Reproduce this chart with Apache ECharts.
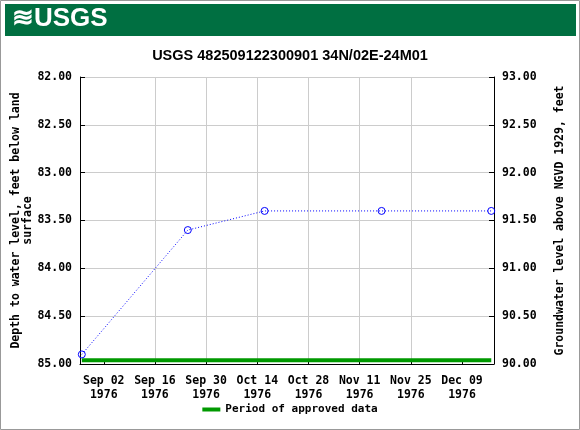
<!DOCTYPE html><html><head><meta charset="utf-8">
<script src="https://cdn.jsdelivr.net/npm/echarts@6/dist/echarts.min.js"></script>
<style>body{margin:0}#c{width:580px;height:430px}</style></head><body><div id="c"></div><script>
const dates=['1976-08-27','1976-09-25','1976-10-16','1976-11-17','1976-12-17'];
const depths=[84.9,83.6,83.4,83.4,83.4];
const tickDates=['1976-09-02','1976-09-16','1976-09-30','1976-10-14','1976-10-28','1976-11-11','1976-11-25','1976-12-09'];
const tickLabels=['Sep 02\n1976','Sep 16\n1976','Sep 30\n1976','Oct 14\n1976','Oct 28\n1976','Nov 11\n1976','Nov 25\n1976','Dec 09\n1976'];
const t=s=>Date.parse(s+'T00:00:00Z');
const tickMs=tickDates.map(t);
const mono='DejaVu Sans Mono';
const ch=echarts.init(document.getElementById('c'));
ch.setOption({
 animation:false,
 graphic:[
  {type:'rect',shape:{x:5,y:4,width:571,height:32},style:{fill:'#006f41'}},
  {type:'text',left:12,top:6,style:{text:'≋USGS',fill:'#fff',font:'bold 26px "Liberation Sans"'}},
  {type:'rect',shape:{x:0.5,y:0.5,width:579,height:429},style:{fill:'none',stroke:'#999'}}
 ],
 title:{text:'USGS 482509122300901 34N/02E-24M01',left:'center',top:43,textStyle:{fontFamily:'Liberation Sans',fontWeight:'bold',fontSize:14.5,color:'#000'}},
 grid:{left:80,right:86,top:77,bottom:66,containLabel:false,outerBoundsMode:'none'},
 legend:{bottom:10,left:'center',itemWidth:18,itemHeight:4,data:[{name:'Period of approved data',icon:'rect'}],textStyle:{fontFamily:mono,fontWeight:'bold',fontSize:11,color:'#000'}},
 xAxis:{type:'value',min:t('1976-08-26')+12*3600e3,max:t('1976-12-17')+18*3600e3,
  axisLine:{lineStyle:{color:'#000'}},
  splitLine:{show:true,showMinLine:false,showMaxLine:false,lineStyle:{color:'#ccc'}},
  axisTick:{customValues:tickMs,length:5,inside:true,lineStyle:{color:'#000'}},
  axisLabel:{customValues:tickMs,formatter:v=>tickLabels[tickMs.indexOf(v)]||'',fontFamily:mono,fontWeight:'bold',fontSize:11.5,color:'#000',lineHeight:14,margin:10}},
 yAxis:[
  {type:'value',min:82,max:85,interval:0.5,inverse:true,name:'Depth to water level, feet below land\nsurface',nameLocation:'middle',nameGap:46,nameMoveOverlap:false,
   nameTextStyle:{fontFamily:mono,fontWeight:'bold',fontSize:11.5,color:'#000',lineHeight:12},
   axisLine:{show:true,lineStyle:{color:'#000'}},axisTick:{show:true,inside:true,lineStyle:{color:'#000'}},
   splitLine:{lineStyle:{color:'#ccc'}},
   axisLabel:{formatter:v=>v.toFixed(2),fontFamily:mono,fontWeight:'bold',fontSize:11.5,color:'#000'}},
  {type:'value',min:90,max:93,interval:0.5,position:'right',name:'Groundwater level above NGVD 1929, feet',nameLocation:'middle',nameGap:60,nameRotate:90,nameMoveOverlap:false,
   nameTextStyle:{fontFamily:mono,fontWeight:'bold',fontSize:11.5,color:'#000'},
   axisLine:{show:true,lineStyle:{color:'#000'}},axisTick:{show:true,inside:true,lineStyle:{color:'#000'}},splitLine:{show:false},
   axisLabel:{formatter:v=>v.toFixed(2),fontFamily:mono,fontWeight:'bold',fontSize:11.5,color:'#000'}}
 ],
 series:[
  {type:'line',name:'levels',data:dates.map((d,i)=>[t(d),depths[i]]),symbol:'circle',symbolSize:7,showSymbol:true,
   lineStyle:{color:'#0000ff',width:1,type:[1,2]},itemStyle:{color:'rgba(0,0,0,0)',borderColor:'#0000ff',borderWidth:1}},
  {type:'line',name:'Period of approved data',data:[[t(dates[0]),84.96],[t(dates[dates.length-1]),84.96]],symbol:'none',
   lineStyle:{color:'#009900',width:4},itemStyle:{color:'#009900'}}
 ]
});
</script></body></html>
